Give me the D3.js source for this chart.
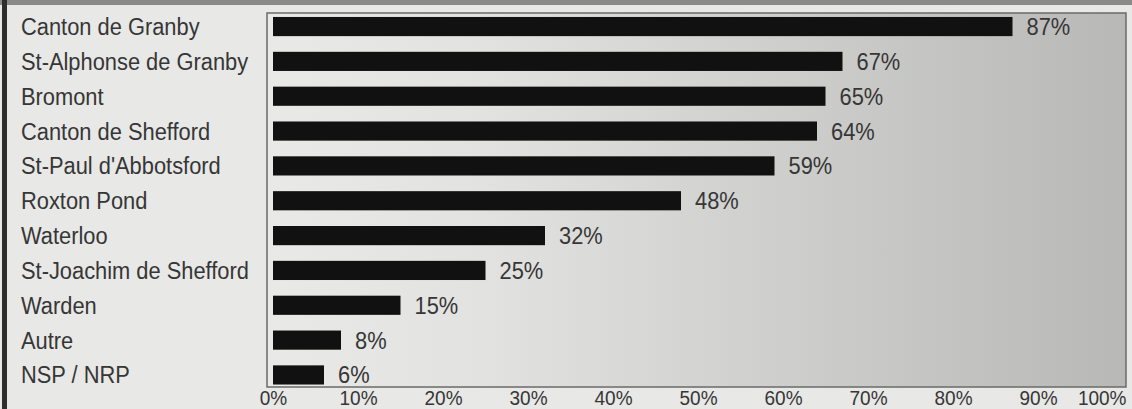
<!DOCTYPE html>
<html>
<head>
<meta charset="utf-8">
<script src="https://cdn.jsdelivr.net/npm/d3@7"></script>
<style>
  body { margin: 0; background: #e8e8e6; }
  svg { display: block; }
  text { font-family: "Liberation Sans", Arial, sans-serif; fill: #363636; }
</style>
</head>
<body>
<svg class="chart"></svg>
<script>
let width = 1132,
  height = 409;

// data
let places = ["Canton de Granby", "St-Alphonse de Granby", "Bromont", "Canton de Shefford",
  "St-Paul d'Abbotsford", "Roxton Pond", "Waterloo", "St-Joachim de Shefford",
  "Warden", "Autre", "NSP / NRP"];
let shares = [87, 67, 65, 64, 59, 48, 32, 25, 15, 8, 6];
let ticks = [0, 10, 20, 30, 40, 50, 60, 70, 80, 90, 100];

let box = { left: 267, top: 13, right: 1126, bottom: 387 };

let svg = d3.select(".chart").attr("width", width).attr("height", height);

// background gradient of the plot box
let grad = svg.append("defs").append("linearGradient").attr("id", "bg");
grad.append("stop").attr("offset", "0%").attr("stop-color", "#e9e9e7");
grad.append("stop").attr("offset", "25%").attr("stop-color", "#e2e2e0");
grad.append("stop").attr("offset", "62%").attr("stop-color", "#cdcdcb");
grad.append("stop").attr("offset", "100%").attr("stop-color", "#b8b8b6");

// dark strip on top and left edge (rest of the page)
svg.append("rect").attr("x", 0).attr("y", 0).attr("width", width).attr("height", 5).attr("fill", "#8a8a88");
svg.append("rect").attr("x", 2).attr("y", 0).attr("width", 5).attr("height", height).attr("fill", "#2e2e2e");

svg.append("rect")
  .attr("x", box.left).attr("y", box.top)
  .attr("width", box.right - box.left).attr("height", box.bottom - box.top)
  .attr("fill", "url(#bg)")
  .attr("stroke", "#6a6a6a").attr("stroke-width", 1.5);

let x = d3.scaleLinear().domain([0, 100]).range([273, 1123]);
let y = d3.scaleBand().domain(places).range([9.5, 391]).paddingInner(0.45).paddingOuter(0.2);

let rows = places.map((p, i) => ({ place: p, value: shares[i] }));

svg.append("g").selectAll("rect")
  .data(rows).enter()
  .append("rect")
  .attr("x", x(0))
  .attr("y", (d) => y(d.place) + 0.5)
  .attr("width", (d) => x(d.value) - x(0))
  .attr("height", y.bandwidth())
  .attr("fill", "#111");

svg.append("g").selectAll("text")
  .data(rows).enter()
  .append("text")
  .attr("class", "narrow")
  .attr("x", (d) => x(d.value) + 14)
  .attr("y", (d) => y(d.place) + y.bandwidth() / 2 + 9)
  .attr("font-size", 23)
  .text((d) => d.value + "%");

svg.append("g").selectAll("text")
  .data(rows).enter()
  .append("text")
  .attr("class", "narrow")
  .attr("x", 21)
  .attr("y", (d) => y(d.place) + y.bandwidth() / 2 + 9)
  .attr("font-size", 23)
  .text((d) => d.place);

// x axis labels under the box
let axis = d3.axisBottom(x).tickValues(ticks).tickSize(0).tickFormat((d) => d + "%");
let ax = svg.append("g").attr("transform", "translate(0," + box.bottom + ")").call(axis);
ax.select(".domain").remove();
ax.selectAll("text")
  .attr("class", "narrow")
  .attr("font-size", 20)
  .attr("dy", 0)
  .attr("y", 18)
  .attr("fill", "#363636")
  .style("font-family", '"Liberation Sans", Arial, sans-serif');
ax.selectAll(".tick").filter((d) => d === 100).select("text")
  .attr("text-anchor", "end").attr("x", box.right - 1123);

// condensed look: squeeze every label horizontally
svg.selectAll("text.narrow").each(function () {
  let len = this.getComputedTextLength();
  d3.select(this).attr("textLength", len * 0.95).attr("lengthAdjust", "spacingAndGlyphs");
});
</script>
</body>
</html>
